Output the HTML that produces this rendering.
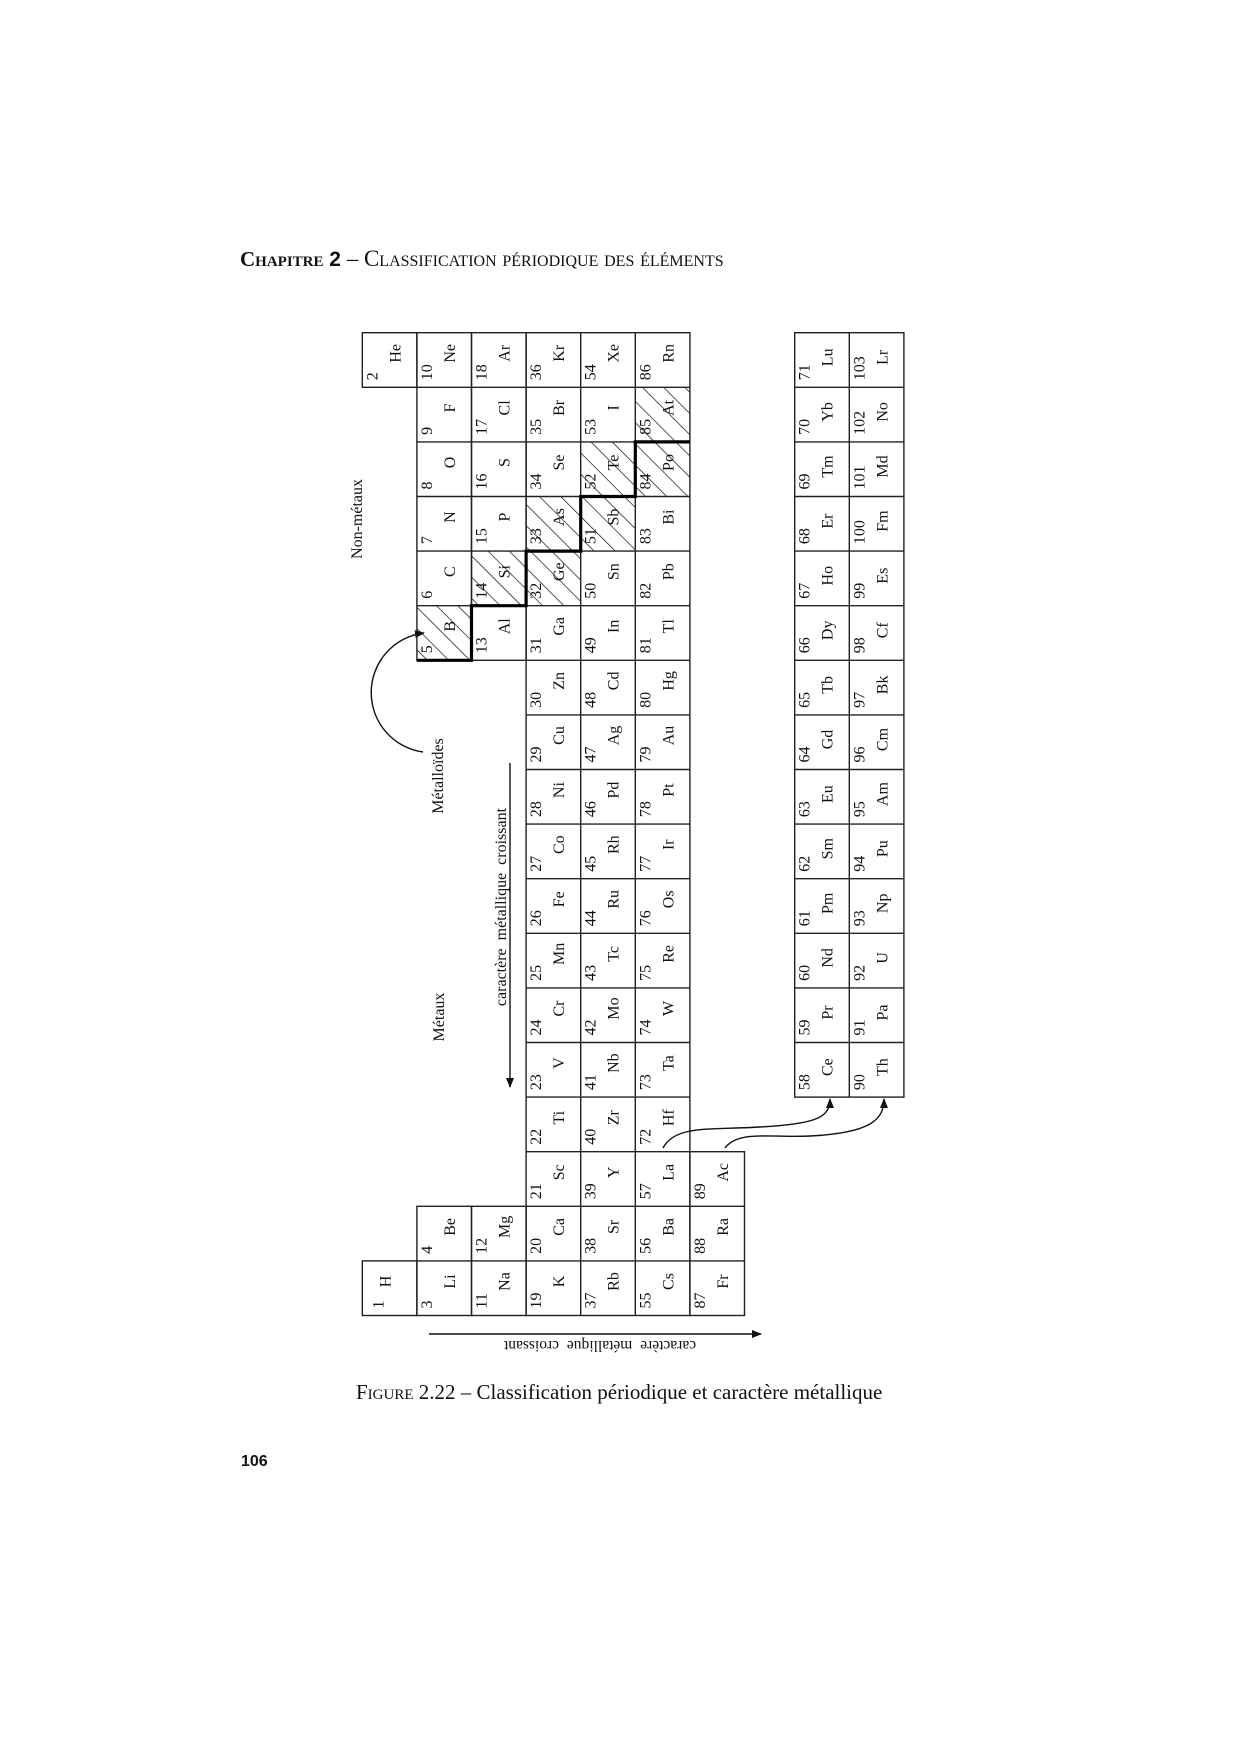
<!DOCTYPE html>
<html><head><meta charset="utf-8"><style>
html,body{margin:0;padding:0;background:#fff}
body{width:1240px;height:1754px;position:relative;overflow:hidden}
.t{font-family:"Liberation Serif",serif;position:absolute;white-space:nowrap;color:#111}
</style></head><body>
<div class="t" style="left:240px;top:246px;font-size:23px;font-variant:small-caps"><b style="font-size:21px">Chapitre</b> <b style="font-family:'Liberation Sans',sans-serif;font-size:21px;font-variant:normal">2</b> – Classification périodique des éléments</div>
<div class="t" style="left:356px;top:1380px;font-size:21px"><span style="font-variant:small-caps">Figure</span> 2.22 – Classification périodique et caractère métallique</div>
<div class="t" style="left:241px;top:1453px;font-size:16px;font-weight:bold;font-family:'Liberation Sans',sans-serif">106</div>
<svg width="1240" height="1754" style="position:absolute;left:0;top:0" xmlns="http://www.w3.org/2000/svg" font-family="Liberation Serif, serif" font-size="16" fill="#111">
<defs>
<pattern id="h" patternUnits="userSpaceOnUse" width="15" height="15" patternTransform="rotate(-45)"><line x1="0" y1="0" x2="0" y2="15" stroke="#111" stroke-width="1.4"/></pattern>
<marker id="a" markerWidth="10" markerHeight="8" refX="9" refY="4" orient="auto" markerUnits="userSpaceOnUse"><path d="M0,0 L10,4 L0,8 z" fill="#111"/></marker>
</defs>
<g id="cells">
<rect x="416.9" y="605.7" width="54.6" height="54.6" fill="url(#h)"/>
<rect x="471.5" y="551.1" width="54.6" height="54.6" fill="url(#h)"/>
<rect x="526.1" y="496.5" width="54.6" height="109.2" fill="url(#h)"/>
<rect x="580.7" y="441.9" width="54.6" height="109.2" fill="url(#h)"/>
<rect x="635.3" y="387.3" width="54.6" height="109.2" fill="url(#h)"/>
</g>
<g stroke="#222" stroke-width="1.4" fill="none">
<rect x="362.3" y="332.7" width="54.6" height="54.6"/>
<rect x="362.3" y="1260.9" width="54.6" height="54.6"/>
<rect x="416.9" y="332.7" width="54.6" height="327.6"/>
<line x1="416.9" y1="387.3" x2="471.5" y2="387.3"/><line x1="416.9" y1="441.9" x2="471.5" y2="441.9"/><line x1="416.9" y1="496.5" x2="471.5" y2="496.5"/><line x1="416.9" y1="551.1" x2="471.5" y2="551.1"/><line x1="416.9" y1="605.7" x2="471.5" y2="605.7"/>
<rect x="416.9" y="1206.3" width="54.6" height="109.2"/><line x1="416.9" y1="1260.9" x2="471.5" y2="1260.9"/>
<rect x="471.5" y="332.7" width="54.6" height="327.6"/>
<line x1="471.5" y1="387.3" x2="526.1" y2="387.3"/><line x1="471.5" y1="441.9" x2="526.1" y2="441.9"/><line x1="471.5" y1="496.5" x2="526.1" y2="496.5"/><line x1="471.5" y1="551.1" x2="526.1" y2="551.1"/><line x1="471.5" y1="605.7" x2="526.1" y2="605.7"/>
<rect x="471.5" y="1206.3" width="54.6" height="109.2"/><line x1="471.5" y1="1260.9" x2="526.1" y2="1260.9"/>
<rect x="526.1" y="332.7" width="163.8" height="982.8"/>
<line x1="580.7" y1="332.7" x2="580.7" y2="1315.5"/><line x1="635.3" y1="332.7" x2="635.3" y2="1315.5"/>
<rect x="689.9" y="1151.7" width="54.6" height="163.8"/>
<line x1="689.9" y1="1206.3" x2="744.5" y2="1206.3"/><line x1="689.9" y1="1260.9" x2="744.5" y2="1260.9"/>
<path d="M526.1 387.3H689.9M526.1 441.9H689.9M526.1 496.5H689.9M526.1 551.1H689.9M526.1 605.7H689.9M526.1 660.3H689.9M526.1 714.9H689.9M526.1 769.5H689.9M526.1 824.1H689.9M526.1 878.7H689.9M526.1 933.3H689.9M526.1 987.9H689.9M526.1 1042.5H689.9M526.1 1097.1H689.9M526.1 1151.7H689.9M526.1 1206.3H689.9M526.1 1260.9H689.9"/>
<rect x="794.7" y="332.7" width="109.2" height="764.4"/>
<line x1="849.3" y1="332.7" x2="849.3" y2="1097.1"/>
<path d="M794.7 387.3H903.9M794.7 441.9H903.9M794.7 496.5H903.9M794.7 551.1H903.9M794.7 605.7H903.9M794.7 660.3H903.9M794.7 714.9H903.9M794.7 769.5H903.9M794.7 824.1H903.9M794.7 878.7H903.9M794.7 933.3H903.9M794.7 987.9H903.9M794.7 1042.5H903.9"/>
</g>
<path d="M689.9 441.9H635.3V496.5H580.7V551.1H526.1V605.7H471.5V660.3H416.9" stroke="#000" stroke-width="3.2" fill="none"/>
<g stroke="#111" stroke-width="1.4" fill="none">
<path d="M423 752 A60 60 0 0 1 424 633" marker-end="url(#a)"/>
<path d="M663 1148 C675 1125 710 1130 760 1127 C815 1124 830 1118 830 1099" marker-end="url(#a)"/>
<path d="M725 1148 C738 1130 770 1138 810 1136 C870 1133 884 1120 884 1099" marker-end="url(#a)"/>
<path d="M510 763 V1087" marker-end="url(#a)"/>
<path d="M429 1334 H761" marker-end="url(#a)"/>
</g>
<text transform="translate(362,519) rotate(-90)" text-anchor="middle">Non-métaux</text>
<text transform="translate(443,776) rotate(-90)" text-anchor="middle">Métalloïdes</text>
<text transform="translate(444,1017) rotate(-90)" text-anchor="middle">Métaux</text>
<text transform="translate(506,907) rotate(-90)" text-anchor="middle" word-spacing="4">caractère métallique croissant</text>
<text transform="translate(600,1341) rotate(180)" text-anchor="middle" font-size="15.5" word-spacing="4">caractère métallique croissant</text>
<g id="txt">
<text transform="translate(377.3,380.3) rotate(-90)">2</text><text transform="translate(400.3,353.3) rotate(-90)" text-anchor="middle">He</text>
<text transform="translate(383.3,1308.5) rotate(-90)">1</text><text transform="translate(390.3,1281.5) rotate(-90)" text-anchor="middle">H</text>
<text transform="translate(431.9,380.3) rotate(-90)">10</text><text transform="translate(454.9,353.3) rotate(-90)" text-anchor="middle">Ne</text>
<text transform="translate(431.9,434.9) rotate(-90)">9</text><text transform="translate(454.9,407.9) rotate(-90)" text-anchor="middle">F</text>
<text transform="translate(431.9,489.5) rotate(-90)">8</text><text transform="translate(454.9,462.5) rotate(-90)" text-anchor="middle">O</text>
<text transform="translate(431.9,544.1) rotate(-90)">7</text><text transform="translate(454.9,517.1) rotate(-90)" text-anchor="middle">N</text>
<text transform="translate(431.9,598.7) rotate(-90)">6</text><text transform="translate(454.9,571.7) rotate(-90)" text-anchor="middle">C</text>
<text transform="translate(431.9,653.3) rotate(-90)">5</text><text transform="translate(454.9,626.3) rotate(-90)" text-anchor="middle">B</text>
<text transform="translate(431.9,1253.9) rotate(-90)">4</text><text transform="translate(454.9,1226.9) rotate(-90)" text-anchor="middle">Be</text>
<text transform="translate(431.9,1308.5) rotate(-90)">3</text><text transform="translate(454.9,1281.5) rotate(-90)" text-anchor="middle">Li</text>
<text transform="translate(486.5,380.3) rotate(-90)">18</text><text transform="translate(509.5,353.3) rotate(-90)" text-anchor="middle">Ar</text>
<text transform="translate(486.5,434.9) rotate(-90)">17</text><text transform="translate(509.5,407.9) rotate(-90)" text-anchor="middle">Cl</text>
<text transform="translate(486.5,489.5) rotate(-90)">16</text><text transform="translate(509.5,462.5) rotate(-90)" text-anchor="middle">S</text>
<text transform="translate(486.5,544.1) rotate(-90)">15</text><text transform="translate(509.5,517.1) rotate(-90)" text-anchor="middle">P</text>
<text transform="translate(486.5,598.7) rotate(-90)">14</text><text transform="translate(509.5,571.7) rotate(-90)" text-anchor="middle">Si</text>
<text transform="translate(486.5,653.3) rotate(-90)">13</text><text transform="translate(509.5,626.3) rotate(-90)" text-anchor="middle">Al</text>
<text transform="translate(486.5,1253.9) rotate(-90)">12</text><text transform="translate(509.5,1226.9) rotate(-90)" text-anchor="middle">Mg</text>
<text transform="translate(486.5,1308.5) rotate(-90)">11</text><text transform="translate(509.5,1281.5) rotate(-90)" text-anchor="middle">Na</text>
<text transform="translate(541.1,380.3) rotate(-90)">36</text><text transform="translate(564.1,353.3) rotate(-90)" text-anchor="middle">Kr</text>
<text transform="translate(541.1,434.9) rotate(-90)">35</text><text transform="translate(564.1,407.9) rotate(-90)" text-anchor="middle">Br</text>
<text transform="translate(541.1,489.5) rotate(-90)">34</text><text transform="translate(564.1,462.5) rotate(-90)" text-anchor="middle">Se</text>
<text transform="translate(541.1,544.1) rotate(-90)">33</text><text transform="translate(564.1,517.1) rotate(-90)" text-anchor="middle">As</text>
<text transform="translate(541.1,598.7) rotate(-90)">32</text><text transform="translate(564.1,571.7) rotate(-90)" text-anchor="middle">Ge</text>
<text transform="translate(541.1,653.3) rotate(-90)">31</text><text transform="translate(564.1,626.3) rotate(-90)" text-anchor="middle">Ga</text>
<text transform="translate(541.1,707.9) rotate(-90)">30</text><text transform="translate(564.1,680.9) rotate(-90)" text-anchor="middle">Zn</text>
<text transform="translate(541.1,762.5) rotate(-90)">29</text><text transform="translate(564.1,735.5) rotate(-90)" text-anchor="middle">Cu</text>
<text transform="translate(541.1,817.1) rotate(-90)">28</text><text transform="translate(564.1,790.1) rotate(-90)" text-anchor="middle">Ni</text>
<text transform="translate(541.1,871.7) rotate(-90)">27</text><text transform="translate(564.1,844.7) rotate(-90)" text-anchor="middle">Co</text>
<text transform="translate(541.1,926.3) rotate(-90)">26</text><text transform="translate(564.1,899.3) rotate(-90)" text-anchor="middle">Fe</text>
<text transform="translate(541.1,980.9) rotate(-90)">25</text><text transform="translate(564.1,953.9) rotate(-90)" text-anchor="middle">Mn</text>
<text transform="translate(541.1,1035.5) rotate(-90)">24</text><text transform="translate(564.1,1008.5) rotate(-90)" text-anchor="middle">Cr</text>
<text transform="translate(541.1,1090.1) rotate(-90)">23</text><text transform="translate(564.1,1063.1) rotate(-90)" text-anchor="middle">V</text>
<text transform="translate(541.1,1144.7) rotate(-90)">22</text><text transform="translate(564.1,1117.7) rotate(-90)" text-anchor="middle">Ti</text>
<text transform="translate(541.1,1199.3) rotate(-90)">21</text><text transform="translate(564.1,1172.3) rotate(-90)" text-anchor="middle">Sc</text>
<text transform="translate(541.1,1253.9) rotate(-90)">20</text><text transform="translate(564.1,1226.9) rotate(-90)" text-anchor="middle">Ca</text>
<text transform="translate(541.1,1308.5) rotate(-90)">19</text><text transform="translate(564.1,1281.5) rotate(-90)" text-anchor="middle">K</text>
<text transform="translate(595.7,380.3) rotate(-90)">54</text><text transform="translate(618.7,353.3) rotate(-90)" text-anchor="middle">Xe</text>
<text transform="translate(595.7,434.9) rotate(-90)">53</text><text transform="translate(618.7,407.9) rotate(-90)" text-anchor="middle">I</text>
<text transform="translate(595.7,489.5) rotate(-90)">52</text><text transform="translate(618.7,462.5) rotate(-90)" text-anchor="middle">Te</text>
<text transform="translate(595.7,544.1) rotate(-90)">51</text><text transform="translate(618.7,517.1) rotate(-90)" text-anchor="middle">Sb</text>
<text transform="translate(595.7,598.7) rotate(-90)">50</text><text transform="translate(618.7,571.7) rotate(-90)" text-anchor="middle">Sn</text>
<text transform="translate(595.7,653.3) rotate(-90)">49</text><text transform="translate(618.7,626.3) rotate(-90)" text-anchor="middle">In</text>
<text transform="translate(595.7,707.9) rotate(-90)">48</text><text transform="translate(618.7,680.9) rotate(-90)" text-anchor="middle">Cd</text>
<text transform="translate(595.7,762.5) rotate(-90)">47</text><text transform="translate(618.7,735.5) rotate(-90)" text-anchor="middle">Ag</text>
<text transform="translate(595.7,817.1) rotate(-90)">46</text><text transform="translate(618.7,790.1) rotate(-90)" text-anchor="middle">Pd</text>
<text transform="translate(595.7,871.7) rotate(-90)">45</text><text transform="translate(618.7,844.7) rotate(-90)" text-anchor="middle">Rh</text>
<text transform="translate(595.7,926.3) rotate(-90)">44</text><text transform="translate(618.7,899.3) rotate(-90)" text-anchor="middle">Ru</text>
<text transform="translate(595.7,980.9) rotate(-90)">43</text><text transform="translate(618.7,953.9) rotate(-90)" text-anchor="middle">Tc</text>
<text transform="translate(595.7,1035.5) rotate(-90)">42</text><text transform="translate(618.7,1008.5) rotate(-90)" text-anchor="middle">Mo</text>
<text transform="translate(595.7,1090.1) rotate(-90)">41</text><text transform="translate(618.7,1063.1) rotate(-90)" text-anchor="middle">Nb</text>
<text transform="translate(595.7,1144.7) rotate(-90)">40</text><text transform="translate(618.7,1117.7) rotate(-90)" text-anchor="middle">Zr</text>
<text transform="translate(595.7,1199.3) rotate(-90)">39</text><text transform="translate(618.7,1172.3) rotate(-90)" text-anchor="middle">Y</text>
<text transform="translate(595.7,1253.9) rotate(-90)">38</text><text transform="translate(618.7,1226.9) rotate(-90)" text-anchor="middle">Sr</text>
<text transform="translate(595.7,1308.5) rotate(-90)">37</text><text transform="translate(618.7,1281.5) rotate(-90)" text-anchor="middle">Rb</text>
<text transform="translate(650.3,380.3) rotate(-90)">86</text><text transform="translate(673.3,353.3) rotate(-90)" text-anchor="middle">Rn</text>
<text transform="translate(650.3,434.9) rotate(-90)">85</text><text transform="translate(673.3,407.9) rotate(-90)" text-anchor="middle">At</text>
<text transform="translate(650.3,489.5) rotate(-90)">84</text><text transform="translate(673.3,462.5) rotate(-90)" text-anchor="middle">Po</text>
<text transform="translate(650.3,544.1) rotate(-90)">83</text><text transform="translate(673.3,517.1) rotate(-90)" text-anchor="middle">Bi</text>
<text transform="translate(650.3,598.7) rotate(-90)">82</text><text transform="translate(673.3,571.7) rotate(-90)" text-anchor="middle">Pb</text>
<text transform="translate(650.3,653.3) rotate(-90)">81</text><text transform="translate(673.3,626.3) rotate(-90)" text-anchor="middle">Tl</text>
<text transform="translate(650.3,707.9) rotate(-90)">80</text><text transform="translate(673.3,680.9) rotate(-90)" text-anchor="middle">Hg</text>
<text transform="translate(650.3,762.5) rotate(-90)">79</text><text transform="translate(673.3,735.5) rotate(-90)" text-anchor="middle">Au</text>
<text transform="translate(650.3,817.1) rotate(-90)">78</text><text transform="translate(673.3,790.1) rotate(-90)" text-anchor="middle">Pt</text>
<text transform="translate(650.3,871.7) rotate(-90)">77</text><text transform="translate(673.3,844.7) rotate(-90)" text-anchor="middle">Ir</text>
<text transform="translate(650.3,926.3) rotate(-90)">76</text><text transform="translate(673.3,899.3) rotate(-90)" text-anchor="middle">Os</text>
<text transform="translate(650.3,980.9) rotate(-90)">75</text><text transform="translate(673.3,953.9) rotate(-90)" text-anchor="middle">Re</text>
<text transform="translate(650.3,1035.5) rotate(-90)">74</text><text transform="translate(673.3,1008.5) rotate(-90)" text-anchor="middle">W</text>
<text transform="translate(650.3,1090.1) rotate(-90)">73</text><text transform="translate(673.3,1063.1) rotate(-90)" text-anchor="middle">Ta</text>
<text transform="translate(650.3,1144.7) rotate(-90)">72</text><text transform="translate(673.3,1117.7) rotate(-90)" text-anchor="middle">Hf</text>
<text transform="translate(650.3,1199.3) rotate(-90)">57</text><text transform="translate(673.3,1172.3) rotate(-90)" text-anchor="middle">La</text>
<text transform="translate(650.3,1253.9) rotate(-90)">56</text><text transform="translate(673.3,1226.9) rotate(-90)" text-anchor="middle">Ba</text>
<text transform="translate(650.3,1308.5) rotate(-90)">55</text><text transform="translate(673.3,1281.5) rotate(-90)" text-anchor="middle">Cs</text>
<text transform="translate(704.9,1199.3) rotate(-90)">89</text><text transform="translate(727.9,1172.3) rotate(-90)" text-anchor="middle">Ac</text>
<text transform="translate(704.9,1253.9) rotate(-90)">88</text><text transform="translate(727.9,1226.9) rotate(-90)" text-anchor="middle">Ra</text>
<text transform="translate(704.9,1308.5) rotate(-90)">87</text><text transform="translate(727.9,1281.5) rotate(-90)" text-anchor="middle">Fr</text>
<text transform="translate(809.7,380.3) rotate(-90)">71</text><text transform="translate(832.7,357.3) rotate(-90)" text-anchor="middle">Lu</text>
<text transform="translate(809.7,434.9) rotate(-90)">70</text><text transform="translate(832.7,411.9) rotate(-90)" text-anchor="middle">Yb</text>
<text transform="translate(809.7,489.5) rotate(-90)">69</text><text transform="translate(832.7,466.5) rotate(-90)" text-anchor="middle">Tm</text>
<text transform="translate(809.7,544.1) rotate(-90)">68</text><text transform="translate(832.7,521.1) rotate(-90)" text-anchor="middle">Er</text>
<text transform="translate(809.7,598.7) rotate(-90)">67</text><text transform="translate(832.7,575.7) rotate(-90)" text-anchor="middle">Ho</text>
<text transform="translate(809.7,653.3) rotate(-90)">66</text><text transform="translate(832.7,630.3) rotate(-90)" text-anchor="middle">Dy</text>
<text transform="translate(809.7,707.9) rotate(-90)">65</text><text transform="translate(832.7,684.9) rotate(-90)" text-anchor="middle">Tb</text>
<text transform="translate(809.7,762.5) rotate(-90)">64</text><text transform="translate(832.7,739.5) rotate(-90)" text-anchor="middle">Gd</text>
<text transform="translate(809.7,817.1) rotate(-90)">63</text><text transform="translate(832.7,794.1) rotate(-90)" text-anchor="middle">Eu</text>
<text transform="translate(809.7,871.7) rotate(-90)">62</text><text transform="translate(832.7,848.7) rotate(-90)" text-anchor="middle">Sm</text>
<text transform="translate(809.7,926.3) rotate(-90)">61</text><text transform="translate(832.7,903.3) rotate(-90)" text-anchor="middle">Pm</text>
<text transform="translate(809.7,980.9) rotate(-90)">60</text><text transform="translate(832.7,957.9) rotate(-90)" text-anchor="middle">Nd</text>
<text transform="translate(809.7,1035.5) rotate(-90)">59</text><text transform="translate(832.7,1012.5) rotate(-90)" text-anchor="middle">Pr</text>
<text transform="translate(809.7,1090.1) rotate(-90)">58</text><text transform="translate(832.7,1067.1) rotate(-90)" text-anchor="middle">Ce</text>
<text transform="translate(864.3,380.3) rotate(-90)">103</text><text transform="translate(887.3,357.3) rotate(-90)" text-anchor="middle">Lr</text>
<text transform="translate(864.3,434.9) rotate(-90)">102</text><text transform="translate(887.3,411.9) rotate(-90)" text-anchor="middle">No</text>
<text transform="translate(864.3,489.5) rotate(-90)">101</text><text transform="translate(887.3,466.5) rotate(-90)" text-anchor="middle">Md</text>
<text transform="translate(864.3,544.1) rotate(-90)">100</text><text transform="translate(887.3,521.1) rotate(-90)" text-anchor="middle">Fm</text>
<text transform="translate(864.3,598.7) rotate(-90)">99</text><text transform="translate(887.3,575.7) rotate(-90)" text-anchor="middle">Es</text>
<text transform="translate(864.3,653.3) rotate(-90)">98</text><text transform="translate(887.3,630.3) rotate(-90)" text-anchor="middle">Cf</text>
<text transform="translate(864.3,707.9) rotate(-90)">97</text><text transform="translate(887.3,684.9) rotate(-90)" text-anchor="middle">Bk</text>
<text transform="translate(864.3,762.5) rotate(-90)">96</text><text transform="translate(887.3,739.5) rotate(-90)" text-anchor="middle">Cm</text>
<text transform="translate(864.3,817.1) rotate(-90)">95</text><text transform="translate(887.3,794.1) rotate(-90)" text-anchor="middle">Am</text>
<text transform="translate(864.3,871.7) rotate(-90)">94</text><text transform="translate(887.3,848.7) rotate(-90)" text-anchor="middle">Pu</text>
<text transform="translate(864.3,926.3) rotate(-90)">93</text><text transform="translate(887.3,903.3) rotate(-90)" text-anchor="middle">Np</text>
<text transform="translate(864.3,980.9) rotate(-90)">92</text><text transform="translate(887.3,957.9) rotate(-90)" text-anchor="middle">U</text>
<text transform="translate(864.3,1035.5) rotate(-90)">91</text><text transform="translate(887.3,1012.5) rotate(-90)" text-anchor="middle">Pa</text>
<text transform="translate(864.3,1090.1) rotate(-90)">90</text><text transform="translate(887.3,1067.1) rotate(-90)" text-anchor="middle">Th</text>
</g>
</svg>
</body></html>
